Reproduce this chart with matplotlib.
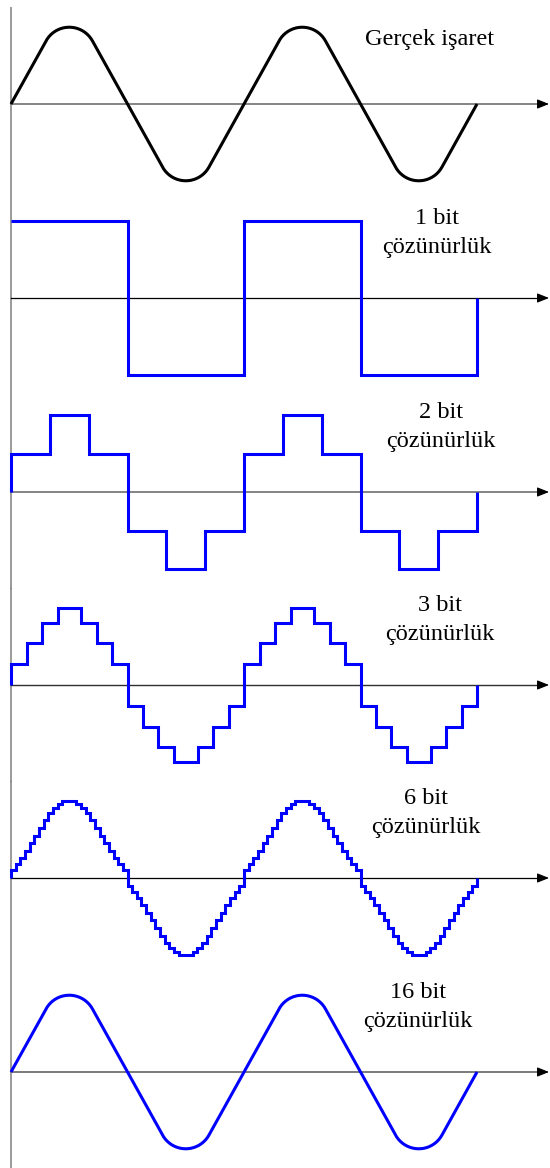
import numpy as np
import matplotlib
matplotlib.use("Agg")
import matplotlib.pyplot as plt

# ---------------- data ----------------
panel_labels = ["Gerçek işaret",
                "1 bit\nçözünürlük",
                "2 bit\nçözünürlük",
                "3 bit\nçözünürlük",
                "6 bit\nçözünürlük",
                "16 bit\nçözünürlük"]
n_half_periods = 4          # two full periods drawn

# real signal (rounded triangle) readings, in picture pixels
signal_slope_px = 1.8       # rise per run of the straight flanks
corner_radius_px = 26.5     # radius of the rounded crests

# quantised signals: step edges (fraction of a half period) and levels (amplitude units)
q1_edges = [0.0, 1.0]
q1_levels = [1.0]
q2_edges = [0.0, 1/3, 2/3, 1.0]
q2_levels = [0.5, 1.0, 0.5]
q3_edges = [0.0, 0.137, 0.266, 0.403, 0.601, 0.738, 0.867, 1.0]
q3_levels = [0.27, 0.54, 0.81, 1.0, 0.81, 0.54, 0.27]
q6_levels = [0.10, 0.18, 0.26, 0.35, 0.45, 0.55, 0.65, 0.75, 0.84, 0.91, 0.96,
             1.0, 1.0, 1.0,
             0.96, 0.91, 0.84, 0.75, 0.65, 0.55, 0.45, 0.35, 0.26, 0.18, 0.10]
q6_edges = list(np.linspace(0.0, 1.0, len(q6_levels) + 1))

# ---------------- layout ----------------
W, H, DPI = 550, 1168, 100
X0_PX = 11
PERIOD_PX = 233.0
AMP_PX = 77.0
BASELINES_PX = [104, 298, 492, 685, 878, 1072]
BAND_PX = 97
TEXT_CX_PX = [430, 437, 441, 440, 426, 418]
SHAFT_COLORS = ["#707070", "black", "#707070", "#303030", "black", "#707070"]
SHAFT_LW = [1.2, 0.9, 1.2, 1.0, 0.9, 1.3]
BLUE = "#0000ff"
LW = 2.2
FONT = ["Liberation Serif", "DejaVu Serif"]


def real_signal():
    s = signal_slope_px
    R = corner_radius_px
    hp = PERIOD_PX / 2
    a = hp / 2
    cy = s * a - R * np.sqrt(1 + s * s)
    th = np.linspace(np.arctan2(1, -s), np.arctan2(1, s), 60)
    lx = np.concatenate([[0.0], a + R * np.cos(th), [hp]])
    ly = np.concatenate([[0.0], cy + R * np.sin(th), [0.0]])
    xs, ys = [], []
    for k in range(n_half_periods):
        sign = 1 if k % 2 == 0 else -1
        xs.append((lx + k * hp) / PERIOD_PX)
        ys.append(sign * ly / AMP_PX)
    return np.concatenate(xs), np.concatenate(ys)


def step_signal(edges, levels, start_at_zero=True):
    xs, ys = [], []
    if start_at_zero:
        xs.append(0.0); ys.append(0.0)
    for k in range(n_half_periods):
        sign = 1 if k % 2 == 0 else -1
        for i, lv in enumerate(levels):
            x0 = (k + edges[i]) * 0.5
            x1 = (k + edges[i + 1]) * 0.5
            xs += [x0, x1]
            ys += [sign * lv, sign * lv]
    xs.append(n_half_periods * 0.5); ys.append(0.0)
    return np.array(xs), np.array(ys)


fig = plt.figure(figsize=(W / DPI, H / DPI), dpi=DPI)
fig.patch.set_facecolor("white")

rx, ry = real_signal()
series = [
    (rx, ry, "black", "round"),
    (*step_signal(q1_edges, q1_levels, start_at_zero=False), BLUE, "miter"),
    (*step_signal(q2_edges, q2_levels), BLUE, "miter"),
    (*step_signal(q3_edges, q3_levels), BLUE, "miter"),
    (*step_signal(q6_edges, q6_levels), BLUE, "miter"),
    (rx, ry, BLUE, "round"),
]

xmin = -X0_PX / PERIOD_PX
xmax = (W - X0_PX) / PERIOD_PX
ylim = BAND_PX / AMP_PX
tip = (W - 1 - X0_PX) / PERIOD_PX
head_start = (W - 12 - X0_PX) / PERIOD_PX

for i, (xs, ys, col, join) in enumerate(series):
    b = BASELINES_PX[i]
    ax = fig.add_axes([0, 1 - (b + BAND_PX) / H, 1, 2 * BAND_PX / H])
    ax.set_xlim(xmin, xmax)
    ax.set_ylim(-ylim, ylim)
    ax.axis("off")
    # vertical axis
    ax.axvline(0, color="#7f7f7f", lw=1.1, zorder=1)
    # horizontal axis with arrow
    ax.plot([0, head_start], [0, 0], color=SHAFT_COLORS[i], lw=SHAFT_LW[i], zorder=1)
    ax.annotate("", xy=(tip, 0), xytext=(head_start, 0),
                arrowprops=dict(arrowstyle="-|>,head_length=0.55,head_width=0.22",
                                color="black", lw=0.8, mutation_scale=13,
                                shrinkA=0, shrinkB=0), zorder=2)
    ax.plot(xs, ys, color=col, lw=LW, solid_joinstyle=join,
            solid_capstyle="butt", zorder=3)
    # label
    tx = (TEXT_CX_PX[i] - X0_PX) / PERIOD_PX
    if i == 0:
        ax.text(tx, 59 / AMP_PX, panel_labels[i], ha="center", va="baseline",
                fontsize=17.5, family=FONT)
    else:
        l1, l2 = panel_labels[i].split("\n")
        ax.text(tx, 74 / AMP_PX, l1, ha="center", va="baseline",
                fontsize=17.5, family=FONT)
        ax.text(tx, 45 / AMP_PX, l2, ha="center", va="baseline",
                fontsize=17.5, family=FONT)

fig.savefig("out.png", dpi=DPI, facecolor="white")
